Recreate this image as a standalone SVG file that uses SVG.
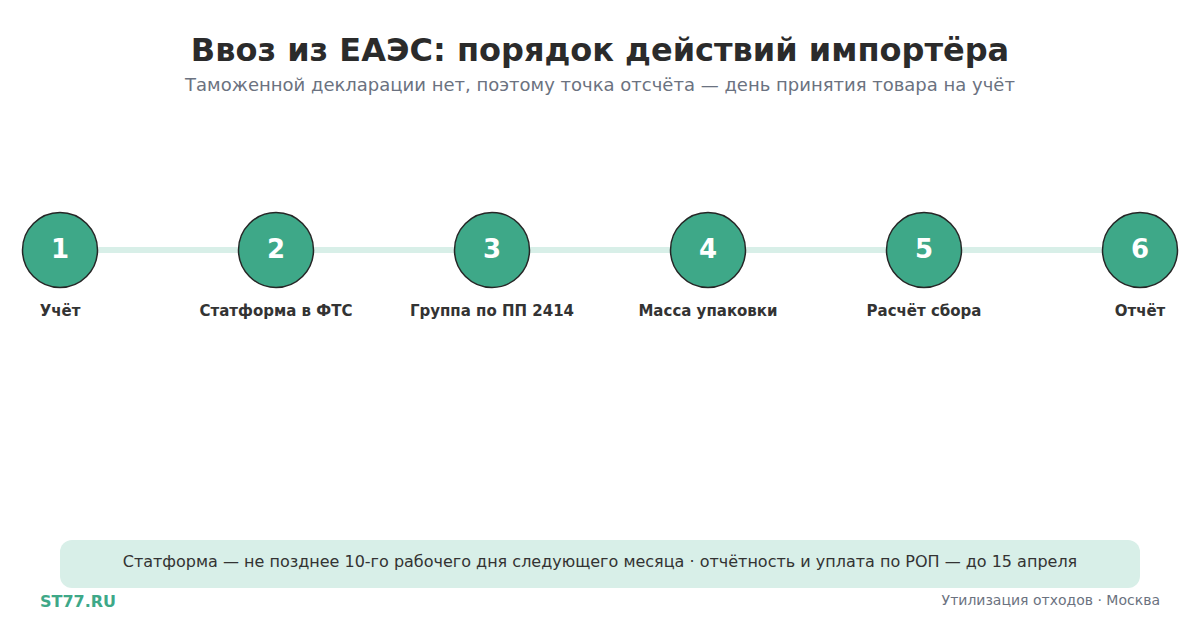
<svg xmlns="http://www.w3.org/2000/svg" width="1200" height="630" viewBox="0 0 1200 630">
<style>
text{font-family:"DejaVu Sans","Noto Sans",sans-serif}
.title{font-size:32px;font-weight:bold;fill:#2b2b2b}
.sub{font-size:18px;fill:#6b7280}
.node circle{fill:#3ea888;stroke:#262626;stroke-width:1.5}
.num{font-size:26px;font-weight:bold;fill:#ffffff}
.lbl{font-size:15px;font-weight:bold;fill:#333333}
.conn line{stroke:#d8efe8;stroke-width:6}
.note{font-size:16px;fill:#333333}
.brand{font-size:16px;font-weight:bold;fill:#3ea888}
.foot{font-size:14px;fill:#6b7280}
</style>
<rect width="1200" height="630" fill="#ffffff"/>
<text class="title" x="600" y="61" text-anchor="middle">Ввоз из ЕАЭС: порядок действий импортёра</text>
<text class="sub" x="600" y="91" text-anchor="middle">Таможенной декларации нет, поэтому точка отсчёта — день принятия товара на учёт</text>
<g id="connectors" class="conn">
<line x1="98" y1="250" x2="238" y2="250"/>
<line x1="314" y1="250" x2="454" y2="250"/>
<line x1="530" y1="250" x2="670" y2="250"/>
<line x1="746" y1="250" x2="886" y2="250"/>
<line x1="962" y1="250" x2="1102" y2="250"/>
</g>
<g id="node1" class="node"><circle cx="60" cy="250" r="37.5"/><text class="num" x="60" y="258" text-anchor="middle">1</text><text class="lbl" x="60" y="316" text-anchor="middle">Учёт</text></g>
<g id="node2" class="node"><circle cx="276" cy="250" r="37.5"/><text class="num" x="276" y="258" text-anchor="middle">2</text><text class="lbl" x="276" y="316" text-anchor="middle">Статформа в ФТС</text></g>
<g id="node3" class="node"><circle cx="492" cy="250" r="37.5"/><text class="num" x="492" y="258" text-anchor="middle">3</text><text class="lbl" x="492" y="316" text-anchor="middle">Группа по ПП 2414</text></g>
<g id="node4" class="node"><circle cx="708" cy="250" r="37.5"/><text class="num" x="708" y="258" text-anchor="middle">4</text><text class="lbl" x="708" y="316" text-anchor="middle">Масса упаковки</text></g>
<g id="node5" class="node"><circle cx="924" cy="250" r="37.5"/><text class="num" x="924" y="258" text-anchor="middle">5</text><text class="lbl" x="924" y="316" text-anchor="middle">Расчёт сбора</text></g>
<g id="node6" class="node"><circle cx="1140" cy="250" r="37.5"/><text class="num" x="1140" y="258" text-anchor="middle">6</text><text class="lbl" x="1140" y="316" text-anchor="middle">Отчёт</text></g>
<rect x="60" y="540" width="1080" height="48" rx="12" fill="#d8efe8"/>
<text class="note" x="600" y="567" text-anchor="middle">Статформа — не позднее 10-го рабочего дня следующего месяца · отчётность и уплата по РОП — до 15 апреля</text>
<text class="brand" x="40" y="607">ST77.RU</text>
<text class="foot" x="1160" y="605" text-anchor="end">Утилизация отходов · Москва</text>
</svg>
